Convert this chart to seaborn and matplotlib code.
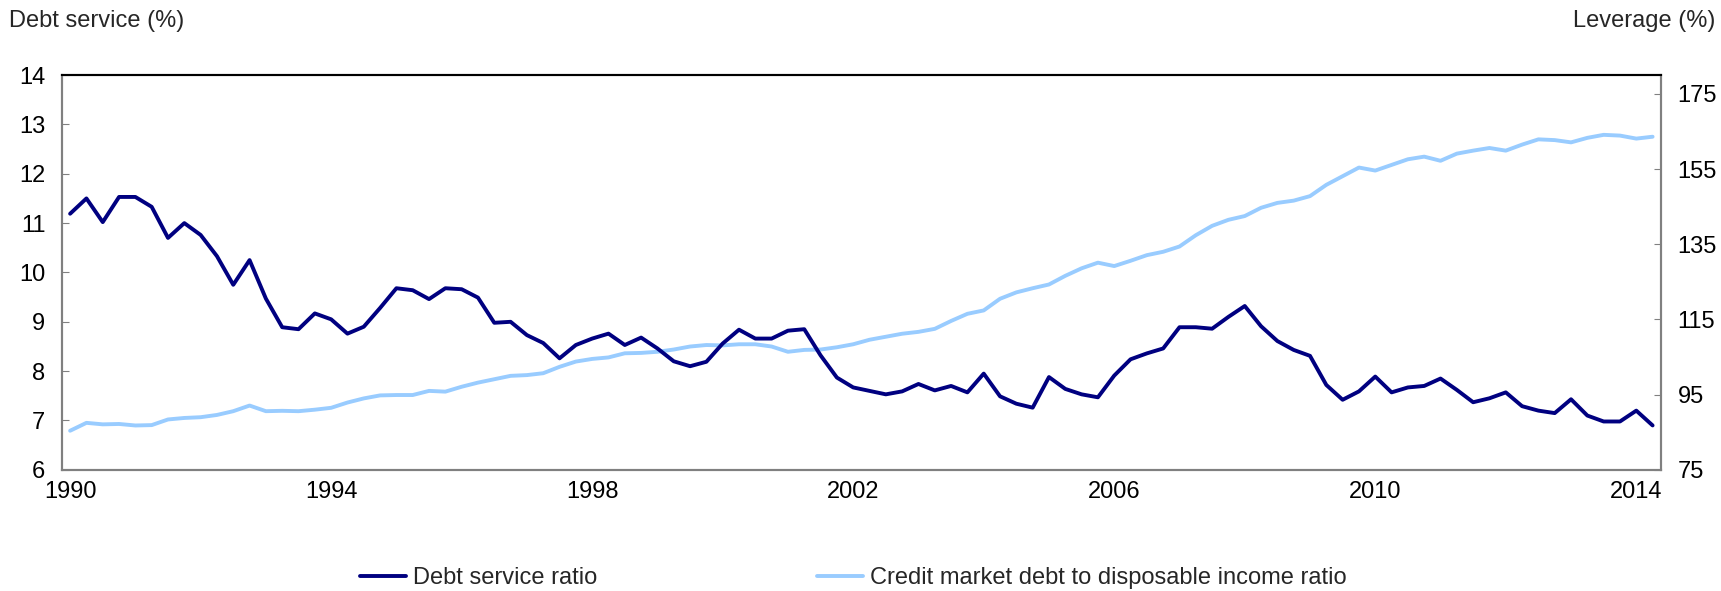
import numpy as np
import pandas as pd
import matplotlib
matplotlib.use("Agg")
import matplotlib.pyplot as plt
import seaborn as sns

# quarterly observations, 1990Q1 - 2014Q2
quarters = pd.period_range("1990Q1", "2014Q2", freq="Q")

debt_service = [
    11.19, 11.50, 11.02, 11.53, 11.53, 11.33, 10.70, 11.00, 10.76, 10.33,
    9.75, 10.25, 9.47, 8.89, 8.85, 9.17, 9.05, 8.76, 8.90, 9.28,
    9.68, 9.64, 9.46, 9.68, 9.66, 9.49, 8.98, 9.00, 8.73, 8.57,
    8.26, 8.53, 8.66, 8.76, 8.53, 8.68, 8.46, 8.20, 8.10, 8.19,
    8.56, 8.84, 8.66, 8.66, 8.82, 8.85, 8.32, 7.87, 7.67, 7.60,
    7.53, 7.59, 7.74, 7.61, 7.70, 7.57, 7.95, 7.49, 7.34, 7.26,
    7.88, 7.64, 7.53, 7.47, 7.91, 8.24, 8.36, 8.46, 8.89, 8.89,
    8.86, 9.10, 9.32, 8.91, 8.61, 8.43, 8.31, 7.72, 7.42, 7.59,
    7.89, 7.57, 7.67, 7.70, 7.85, 7.62, 7.37, 7.45, 7.57, 7.29,
    7.20, 7.15, 7.43, 7.10, 6.98, 6.98, 7.20, 6.90,
]

leverage = [
    85.4, 87.5, 87.1, 87.2, 86.8, 86.9, 88.4, 88.8, 89.0, 89.6,
    90.6, 92.1, 90.6, 90.7, 90.6, 91.0, 91.5, 92.9, 94.0, 94.8,
    94.9, 94.9, 96.0, 95.8, 97.1, 98.2, 99.1, 100.0, 100.2, 100.7,
    102.4, 103.8, 104.5, 104.9, 106.0, 106.1, 106.4, 107.0, 107.8, 108.2,
    108.1, 108.4, 108.4, 107.8, 106.4, 106.9, 107.0, 107.6, 108.4, 109.6,
    110.4, 111.2, 111.7, 112.5, 114.6, 116.5, 117.4, 120.5, 122.2, 123.3,
    124.3, 126.6, 128.6, 130.1, 129.2, 130.6, 132.1, 133.0, 134.4, 137.4,
    139.9, 141.5, 142.5, 144.7, 146.0, 146.6, 147.8, 150.8, 153.1, 155.4,
    154.6, 156.1, 157.6, 158.3, 157.2, 159.1, 159.9, 160.6, 159.9, 161.5,
    162.9, 162.7, 162.1, 163.3, 164.1, 163.9, 163.1, 163.6,
]

year_ticks = [1990, 1994, 1998, 2002, 2006, 2010, 2014]
left_ticks = [6, 7, 8, 9, 10, 11, 12, 13, 14]
right_ticks = [75, 95, 115, 135, 155, 175]

df = pd.DataFrame({
    "t": quarters.year + (quarters.quarter - 1) / 4,
    "Debt service ratio": debt_service,
    "Credit market debt to disposable income ratio": leverage,
})

sns.set_style("white")
plt.rcParams["font.family"] = ["Liberation Sans", "DejaVu Sans"]

dark = "#000080"
light = "#99CCFF"
grey = "#808080"
fs = 17

fig = plt.figure(figsize=(17.21, 5.91), dpi=100)
ax = fig.add_axes([0.036, 0.205, 0.929, 0.668])
ax2 = ax.twinx()

sns.lineplot(data=df, x="t", y="Debt service ratio", ax=ax, color=dark,
             linewidth=2.8, label="Debt service ratio", legend=False, zorder=3)
sns.lineplot(data=df, x="t", y="Credit market debt to disposable income ratio",
             ax=ax2, color=light, linewidth=2.8,
             label="Credit market debt to disposable income ratio", legend=False)
ax.set_zorder(ax2.get_zorder() + 1)
ax.patch.set_visible(False)

ax.set_xlim(1989.875, 2014.375)
ax.set_ylim(6, 14)
ax2.set_ylim(75, 180)
ax.set_xticks(year_ticks)
ax.set_xticklabels([str(y) for y in year_ticks])
ax.set_yticks(left_ticks)
ax2.set_yticks(right_ticks)
ax.set_xlabel("")
ax.set_ylabel("")
ax2.set_ylabel("")

for a in (ax, ax2):
    for side in ("left", "right", "bottom"):
        a.spines[side].set_color(grey)
        a.spines[side].set_linewidth(1.5)
    a.spines["top"].set_color("black")
    a.spines["top"].set_linewidth(1.5)
    a.tick_params(labelsize=fs, colors="black")

ax.tick_params(axis="y", direction="in", length=5, color=grey, pad=12, left=True)
ax.tick_params(axis="x", length=0, pad=8)
ax2.tick_params(axis="y", direction="in", length=5, color=grey, pad=12, right=True)

fig.text(0.005, 0.965, "Debt service (%)", fontsize=fs, ha="left", va="center")
fig.text(0.997, 0.965, "Leverage (%)", fontsize=fs, ha="right", va="center")

h1, l1 = ax.get_legend_handles_labels()
h2, l2 = ax2.get_legend_handles_labels()
fig.legend(h1 + h2, l1 + l2, loc="center", bbox_to_anchor=(0.496, 0.022),
           ncol=2, frameon=False, fontsize=fs, handlelength=1.95,
           handletextpad=0.3, columnspacing=9.3)

fig.savefig("out.png", dpi=100)
